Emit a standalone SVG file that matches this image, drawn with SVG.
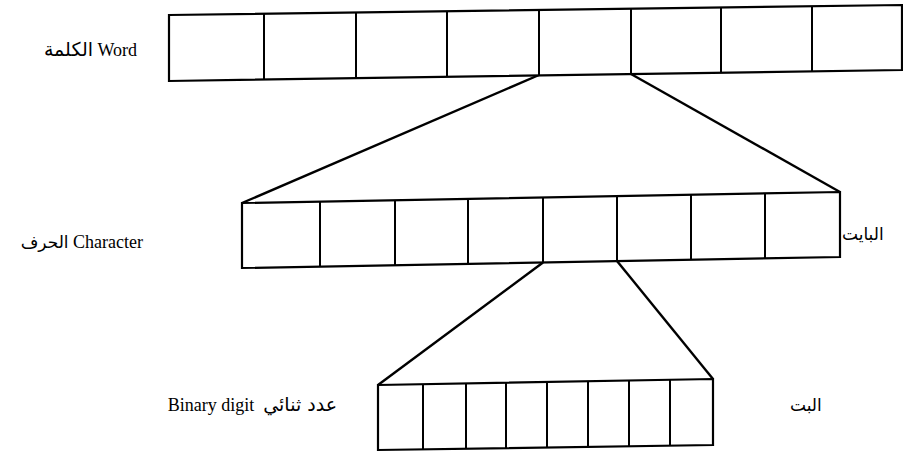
<svg xmlns="http://www.w3.org/2000/svg" width="903" height="456" viewBox="0 0 903 456">
<style>
.box{fill:#fff;stroke:#000;stroke-width:2.2;stroke-linejoin:miter}
.div{stroke:#000;stroke-width:2}
.con{stroke:#000;stroke-width:2.4;fill:none}
.lbl{font-family:"Liberation Serif","DejaVu Sans",serif;font-size:18px;fill:#000}
.ar{font-family:"DejaVu Sans",sans-serif;font-size:17px}
.ar2{font-family:"DejaVu Sans",sans-serif;font-size:19px}
</style>
<rect width="903" height="456" fill="#fff"/>
<g id="connectors">
<line class="con" x1="539" y1="75" x2="242" y2="203"/>
<line class="con" x1="631" y1="74" x2="840" y2="192"/>
<line class="con" x1="543" y1="262.5" x2="378" y2="385"/>
<line class="con" x1="617" y1="261" x2="713" y2="379"/>
</g>
<g id="word">
<polygon class="box" points="169,15 902,5 902,70 169,81"/>
<line class="div" x1="264" y1="13.7" x2="264" y2="79.6"/>
<line class="div" x1="356" y1="12.4" x2="356" y2="78.2"/>
<line class="div" x1="447" y1="11.2" x2="447" y2="76.8"/>
<line class="div" x1="539" y1="10" x2="539" y2="75.4"/>
<line class="div" x1="631" y1="8.7" x2="631" y2="74.1"/>
<line class="div" x1="721" y1="7.5" x2="721" y2="72.7"/>
<line class="div" x1="812" y1="6.2" x2="812" y2="71.3"/>
<text class="lbl" x="137" y="56" text-anchor="end"><tspan class="ar2">الكلمة</tspan> Word</text>
</g>
<g id="character">
<polygon class="box" points="242,203 840,192 840,257 242,268"/>
<line class="div" x1="320" y1="201.6" x2="320" y2="266.6"/>
<line class="div" x1="395" y1="200.2" x2="395" y2="265.2"/>
<line class="div" x1="468" y1="198.8" x2="468" y2="263.8"/>
<line class="div" x1="543" y1="197.5" x2="543" y2="262.5"/>
<line class="div" x1="617" y1="196.1" x2="617" y2="261.1"/>
<line class="div" x1="691" y1="194.7" x2="691" y2="259.7"/>
<line class="div" x1="765" y1="193.4" x2="765" y2="258.4"/>
<text class="lbl" x="143" y="248" text-anchor="end"><tspan class="ar">الحرف</tspan> Character</text>
<text class="lbl ar" x="842" y="240">البايت</text>
</g>
<g id="bit">
<polygon class="box" points="378,385 713,379 713,445 378,450"/>
<line class="div" x1="423" y1="384.2" x2="423" y2="449.3"/>
<line class="div" x1="466" y1="383.4" x2="466" y2="448.7"/>
<line class="div" x1="506" y1="382.7" x2="506" y2="448.1"/>
<line class="div" x1="547" y1="382" x2="547" y2="447.5"/>
<line class="div" x1="588" y1="381.2" x2="588" y2="446.9"/>
<line class="div" x1="629" y1="380.5" x2="629" y2="446.3"/>
<line class="div" x1="670" y1="379.8" x2="670" y2="445.6"/>
<text class="lbl" x="337" y="411" text-anchor="end">Binary digit<tspan class="ar2" dx="9">عدد ثنائي</tspan></text>
<text class="lbl ar" x="790" y="411">البت</text>
</g>
</svg>
